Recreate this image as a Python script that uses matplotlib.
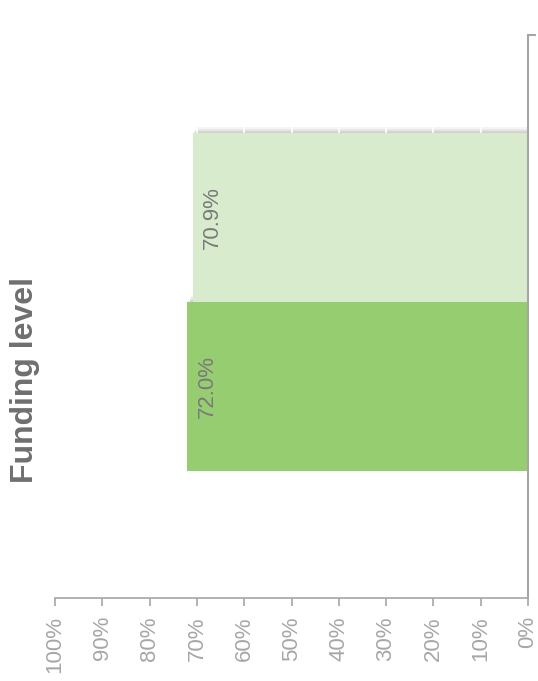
import matplotlib.pyplot as plt
import matplotlib.transforms as mtransforms

plt.rcParams['font.family'] = ['Liberation Sans', 'DejaVu Sans']

# Daten
labels = ['72.0%', '70.9%']
values = [72.0, 70.9]
positions = [0, 1]
colors = ['#96cd70', '#d8ebcc']
ticks = [0, 10, 20, 30, 40, 50, 60, 70, 80, 90, 100]
tick_labels = ['0%', '10%', '20%', '30%', '40%', '50%', '60%', '70%', '80%', '90%', '100%']

fig = plt.figure(figsize=(5.38, 6.81), dpi=100)
ax = fig.add_axes([55 / 538, 83 / 681, 473 / 538, 563 / 681])

# weicher Schatten hinter den Balken
for k in range(1, 6):
    off = mtransforms.ScaledTranslation(k * 0.7 / 100, k * 1.1 / 100, fig.dpi_scale_trans)
    sh = ax.barh(positions, values, height=1.0, color='black', alpha=0.04, zorder=1)
    for r in sh:
        r.set_transform(ax.transData + off)

# weisse Gitterlinien
for t in ticks[1:]:
    ax.axvline(t, color='white', lw=1.2, zorder=1.5)

# Balken (dunkel zuerst, hell darueber)
for p, v, c in zip(positions, values, colors):
    ax.barh(p, v, height=1.0, color=c, zorder=2)

for p, v, lab in zip(positions, values, labels):
    ax.annotate(lab, (v, p), xytext=(20, 0), textcoords='offset pixels',
                rotation=90, ha='center', va='center', fontsize=16, color='#7a7a7a', zorder=3)

ax.set_xlim(100, 0)
ax.set_ylim(-1.254, 2.08)

ax.spines['left'].set_visible(False)
ax.spines['top'].set_visible(False)
ax.spines['right'].set_color('#a6a6a6')
ax.spines['bottom'].set_color('#a6a6a6')
ax.spines['right'].set_linewidth(1.5)
ax.spines['bottom'].set_linewidth(1.2)

ax.set_xticks(ticks)
ax.set_xticklabels(tick_labels, rotation=90, fontsize=16, color='#a6a6a6')
ax.tick_params(axis='x', direction='out', length=6, width=1.2, color='#a6a6a6', pad=7)
for lbl in ax.get_xticklabels():
    lbl.set_verticalalignment('top')

ax.yaxis.tick_right()
ax.set_yticks([2.08])
ax.set_yticklabels([''])
ax.tick_params(axis='y', direction='out', length=6, width=1.5, color='#a6a6a6')

fig.text(25 / 538, 1 - 380 / 681, 'Funding level', rotation=90, ha='center', va='center',
         fontsize=23, fontweight='bold', color='#6f6f6f')

fig.savefig('out.png', dpi=100)
